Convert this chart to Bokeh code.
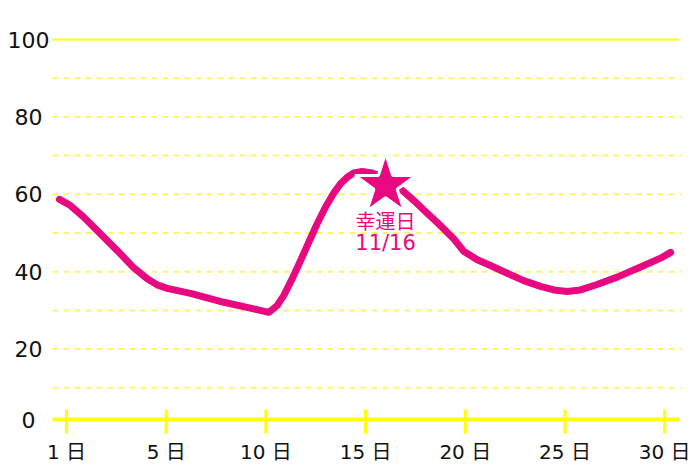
from bokeh.plotting import figure
from bokeh.models import Range1d, FixedTicker, Label
from bokeh.core.properties import value
from bokeh.embed import file_html
from bokeh.resources import INLINE

# ---- data ----
tick_days = [1, 5, 10, 15, 20, 25, 30]
tick_labels = ["1 日", "5 日", "10 日", "15 日", "20 日", "25 日", "30 日"]
y_ticks = [0, 20, 40, 60, 80, 100]
y_grid_dashed = [10, 20, 30, 40, 50, 60, 70, 80, 90]
y_grid_solid = [100]

curve_days = [0.72, 1.16, 1.69, 2.36, 3.03, 3.70, 4.24, 4.64, 5.05, 6.22, 7.89, 9.39,
              10.15, 10.57, 10.9, 11.32, 11.74, 12.15, 12.57, 12.99, 13.4, 13.74, 14.08,
              14.41, 14.83, 15.25, 15.66, 16.2, 16.84, 17.42, 18.09, 18.76, 19.42, 19.92,
              20.6, 21.26, 22.1, 22.93, 23.77, 24.44, 25.11, 25.78, 26.61, 27.62, 28.79,
              29.79, 30.3]
curve_values = [58.7, 57.1, 54.1, 49.8, 45.5, 41.0, 38.2, 36.6, 35.7, 34.4, 32.1, 30.4,
                29.5, 31.3, 33.9, 38.2, 42.9, 47.6, 52.4, 56.7, 60.3, 62.7, 64.4,
                65.5, 65.9, 65.6, 64.9, 62.3, 61.0, 58.4, 55.1, 51.9, 48.5, 45.3,
                43.1, 41.6, 39.6, 37.7, 36.2, 35.3, 34.9, 35.3, 36.7, 38.6, 41.2,
                43.5, 45.0]

lucky_day = 16
lucky_value = 62.3
lucky_text = "幸運日"
lucky_date = "11/16"

# ---- style / layout ----
PINK = "#e8087f"
YELLOW = "#ffff00"
PALE_YELLOW = "#fff46e"
FONT = "DejaVu Sans, Noto Sans CJK JP"

X_START, X_END = -0.662, 6.279        # visible range in tick-slot units
GRID_X0, GRID_X1 = -0.14, 6.148       # extent of the guide lines / baseline
Y_START, Y_END = -2.58, 110.08
BASELINE = 1.8                        # where the yellow base axis line sits
TICK_ABOVE, TICK_BELOW = 2.6, 3.6     # tick mark reach around the baseline
LABEL_X = -0.381                      # y-label column


def day_to_pos(d):
    n = len(tick_days)
    for i in range(n - 1):
        a, b = tick_days[i], tick_days[i + 1]
        if d <= b or i == n - 2:
            return i + (d - a) / (b - a)


tick_pos = [day_to_pos(d) for d in tick_days]
curve_pos = [day_to_pos(d) for d in curve_days]
lucky_pos = day_to_pos(lucky_day)

p = figure(width=692, height=467, output_backend="svg", toolbar_location=None,
           x_range=Range1d(X_START, X_END), y_range=Range1d(Y_START, Y_END),
           y_axis_location=None,
           min_border_left=0, min_border_right=0, min_border_top=0, min_border_bottom=31)
p.outline_line_color = None
p.background_fill_color = "white"
p.border_fill_color = "white"
p.xgrid.visible = False
p.ygrid.visible = False

# horizontal guide lines
n_d = len(y_grid_dashed)
p.segment(x0=[GRID_X0] * n_d, x1=[GRID_X1 + 0.02] * n_d, y0=y_grid_dashed, y1=y_grid_dashed,
          line_color=PALE_YELLOW, line_width=2, line_dash="6 5")
n_s = len(y_grid_solid)
p.segment(x0=[GRID_X0] * n_s, x1=[GRID_X1] * n_s, y0=y_grid_solid, y1=y_grid_solid,
          line_color=YELLOW, line_width=2)
# base line and its tick marks
p.segment(x0=[GRID_X0], x1=[GRID_X1], y0=[BASELINE], y1=[BASELINE],
          line_color=YELLOW, line_width=4)
p.segment(x0=tick_pos, x1=tick_pos,
          y0=[BASELINE - TICK_BELOW] * len(tick_pos), y1=[BASELINE + TICK_ABOVE] * len(tick_pos),
          line_color=YELLOW, line_width=3)

# x axis (labels only)
ax = p.xaxis[0]
ax.ticker = FixedTicker(ticks=tick_pos)
ax.major_label_overrides = {pos: lab for pos, lab in zip(tick_pos, tick_labels)}
ax.axis_line_color = None
ax.major_tick_line_color = None
ax.major_tick_in = 0
ax.major_tick_out = 0
ax.minor_tick_line_color = None
ax.major_label_text_font = FONT
ax.major_label_text_font_size = "20px"
ax.major_label_text_color = "#111111"
ax.major_label_standoff = 3

# y labels
p.text(x=[LABEL_X] * len(y_ticks), y=[max(v, BASELINE) for v in y_ticks],
       text=[str(v) for v in y_ticks], text_align="center", text_baseline="middle",
       text_font=value(FONT), text_font_size="22px", text_color="#111111")

# curve
p.line(curve_pos, curve_values, line_color=PINK, line_width=7,
       line_join="round", line_cap="round")

# lucky star
p.scatter([lucky_pos], [lucky_value], marker="star", size=64,
          fill_color=PINK, line_color="white", line_width=3)

p.add_layout(Label(x=lucky_pos, y=lucky_value, text=lucky_text, y_offset=-35,
                   text_align="center", text_baseline="middle", text_font="Noto Sans CJK JP",
                   text_font_size="20px", text_color=PINK))
p.add_layout(Label(x=lucky_pos, y=lucky_value, text=lucky_date, y_offset=-58,
                   text_align="center", text_baseline="middle", text_font=FONT,
                   text_font_size="21px", text_color=PINK))

open("out.html", "w").write(file_html(p, INLINE))
